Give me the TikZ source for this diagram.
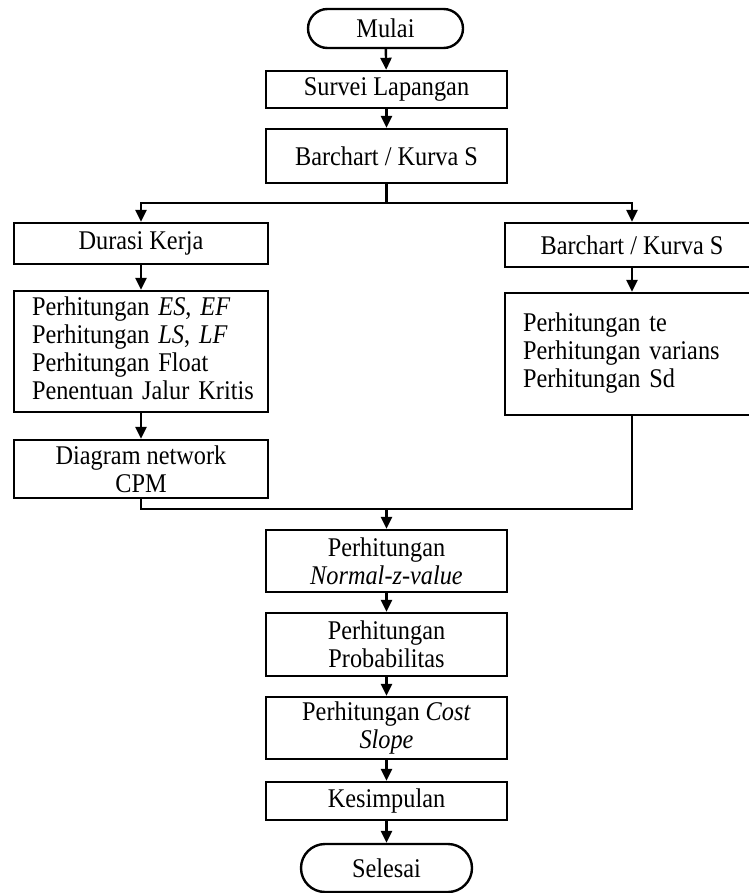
\documentclass[tikz,border=0pt]{standalone}
\usepackage{fontspec}
\setmainfont{Liberation Serif}[FakeStretch=0.9]
\usetikzlibrary{arrows.meta}
\tikzset{
  base/.style={draw, line width=2.4pt, inner sep=0pt, font=\fontsize{27}{28}\selectfont, align=center},
  box/.style={base, rectangle},
  term/.style={base, rectangle, rounded corners=#1},
  listbox/.style={base, rectangle, align=left, inner xsep=18pt, text width=#1},
  flow/.style={line width=2.4pt, -{Triangle[length=12pt,width=11pt]}},
  plain/.style={line width=2.4pt}
}
\begin{document}
\begin{tikzpicture}[x=1pt,y=-1pt]
\useasboundingbox (0,0) rectangle (748,893);
\node[term=19.5pt, minimum width=155pt, minimum height=39pt] (mulai) at (385.5,28.5) {Mulai};
\node[box, minimum width=241pt, minimum height=37pt] (survei) at (386.5,89.5) {Survei Lapangan};
\node[box, minimum width=241pt, minimum height=54pt] (bar1) at (386.5,156) {Barchart / Kurva S};
\coordinate (br) at (386.5,203);
\node[box, minimum width=254pt, minimum height=41pt] (durasi) at (141,243.5) {Durasi Kerja};
\node[box, minimum width=254pt, minimum height=44pt] (bar2) at (632,245) {Barchart / Kurva S};
\node[listbox=218pt, minimum width=254pt, minimum height=121pt] (lbig) at (141,351.5) {\begin{tabular}{@{}l@{}}Perhitungan \textit{ES}, \textit{EF}\\Perhitungan \textit{LS}, \textit{LF}\\Perhitungan Float\\Penentuan Jalur Kritis\end{tabular}};
\node[listbox=218pt, minimum width=254pt, minimum height=122pt] (rbig) at (632,354) {\begin{tabular}{@{}l@{}}Perhitungan te\\Perhitungan varians\\Perhitungan Sd\end{tabular}};
\node[box, minimum width=254pt, minimum height=58pt] (cpm) at (141,469) {Diagram network\\CPM};
\coordinate (mg) at (386.5,509);
\node[box, minimum width=241pt, minimum height=62pt] (normal) at (386.5,561) {Perhitungan\\\textit{Normal-z-value}};
\node[box, minimum width=241pt, minimum height=63pt] (prob) at (386.5,644.5) {Perhitungan\\Probabilitas};
\node[box, minimum width=241pt, minimum height=62pt] (cost) at (386.5,728) {Perhitungan \textit{Cost}\\\textit{Slope}};
\node[box, minimum width=241pt, minimum height=38pt] (kes) at (386.5,801) {Kesimpulan};
\node[term=24pt, minimum width=171pt, minimum height=48pt] (selesai) at (386.5,868) {Selesai};
\draw[flow] (mulai) -- (survei);
\draw[flow] (survei) -- (bar1);
\draw[plain] (bar1) -- (br);
\draw[flow] (br) -| (durasi);
\draw[flow] (br) -| (bar2);
\draw[flow] (durasi) -- (lbig);
\draw[flow] (lbig) -- (cpm);
\draw[flow] (bar2) -- (rbig);
\draw[plain] (cpm.south) |- (mg);
\draw[plain] (rbig.south) |- (mg);
\draw[flow] (mg) -- (normal);
\draw[flow] (normal) -- (prob);
\draw[flow] (prob) -- (cost);
\draw[flow] (cost) -- (kes);
\draw[flow] (kes) -- (selesai);
\end{tikzpicture}
\end{document}
